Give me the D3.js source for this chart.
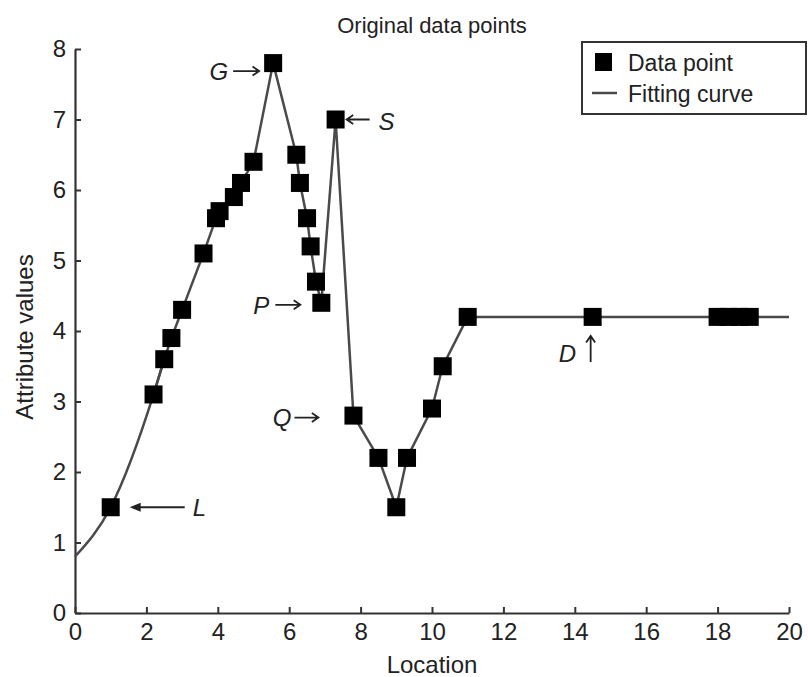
<!DOCTYPE html>
<html>
<head>
<meta charset="utf-8">
<script src="https://cdn.jsdelivr.net/npm/d3@7"></script>
<style>
  body { margin: 0; background: #fff; }
  svg { display: block; font-family: "Liberation Sans", Arial, Helvetica, sans-serif; }
</style>
</head>
<body>
<div id="chart"></div>
<script>
// data points
const locations = [1.0, 2.2, 2.5, 2.7, 3.0, 3.6, 3.95, 4.05, 4.45, 4.65, 5.0, 5.55,
  6.2, 6.3, 6.5, 6.6, 6.75, 6.9, 7.3, 7.8, 8.5, 9.0, 9.3, 10.0, 10.3, 11.0,
  14.5, 18.0, 18.3, 18.6, 18.9];
const attrValues = [1.5, 3.1, 3.6, 3.9, 4.3, 5.1, 5.6, 5.7, 5.9, 6.1, 6.4, 7.8,
  6.5, 6.1, 5.6, 5.2, 4.7, 4.4, 7.0, 2.8, 2.2, 1.5, 2.2, 2.9, 3.5, 4.2,
  4.2, 4.2, 4.2, 4.2, 4.2];

// ends of the fitting curve outside the data points
const curveStart = [0, 0.8];
const curveEnd = [20, 4.2];
// the curve is smooth up to this point, then runs straight between points
const smoothUntil = 2;

const xTicks = [0, 2, 4, 6, 8, 10, 12, 14, 16, 18, 20];
const yTicks = [0, 1, 2, 3, 4, 5, 6, 7, 8];

// letter labels: [location, value] of the point they mark
const labelNames = ["G", "S", "P", "Q", "L", "D"];
const labelAt = [[5.55, 7.8], [7.3, 7.0], [6.9, 4.4], [7.8, 2.8], [1.0, 1.5], [14.5, 4.2]];

const width = 808, height = 677;
const margin = { top: 49, right: 19, bottom: 64, left: 75 };

const svg = d3.select("#chart").append("svg")
  .attr("width", width)
  .attr("height", height);

const x = d3.scaleLinear().domain([0, 20]).range([margin.left, width - margin.right]);
const y = d3.scaleLinear().domain([0, 8]).range([height - margin.bottom, margin.top]);

const axisColor = "#333";
const inkColor = "#222";

// X axis
const gx = svg.append("g")
  .attr("transform", `translate(0, ${y(0)})`)
  .call(d3.axisBottom(x).tickValues(xTicks).tickSizeInner(-6).tickSizeOuter(0).tickPadding(10));

// Y axis
const gy = svg.append("g")
  .attr("transform", `translate(${x(0)}, 0)`)
  .call(d3.axisLeft(y).tickValues(yTicks).tickSizeInner(-6).tickSizeOuter(0).tickPadding(9));

[gx, gy].forEach((g) => {
  g.select(".domain").attr("stroke", axisColor).attr("stroke-width", 2.2);
  g.selectAll(".tick line").attr("stroke", axisColor).attr("stroke-width", 2);
  g.selectAll(".tick text")
    .attr("fill", inkColor)
    .style("font-size", "24px")
    .style("font-family", "inherit");
});

// fitting curve
const curvePts = [curveStart]
  .concat(locations.map((d, i) => [d, attrValues[i]]))
  .concat([curveEnd]);

const smoothLine = d3.line()
  .x((d) => x(d[0]))
  .y((d) => y(d[1]))
  .curve(d3.curveMonotoneX);

const straightLine = d3.line()
  .x((d) => x(d[0]))
  .y((d) => y(d[1]));

svg.append("path")
  .datum(curvePts.slice(0, smoothUntil + 2))
  .attr("fill", "none")
  .attr("stroke", "#4a4a4a")
  .attr("stroke-width", 2.5)
  .attr("d", smoothLine);

svg.append("path")
  .datum(curvePts.slice(smoothUntil))
  .attr("fill", "none")
  .attr("stroke", "#4a4a4a")
  .attr("stroke-width", 2.5)
  .attr("stroke-linejoin", "round")
  .attr("d", straightLine);

// data points
const sq = 18;
svg.selectAll("rect.pt")
  .data(locations)
  .join("rect")
  .attr("class", "pt")
  .attr("x", (d) => x(d) - sq / 2)
  .attr("y", (d, i) => y(attrValues[i]) - sq / 2)
  .attr("width", sq)
  .attr("height", sq)
  .attr("fill", "#000");

// annotations
const ann = svg.append("g")
  .style("font-size", "24px")
  .style("font-style", "italic")
  .attr("fill", inkColor);

function at(name) {
  const p = labelAt[labelNames.indexOf(name)];
  return [x(p[0]), y(p[1])];
}

// thin arrow with open head, tip at (x2, y2)
function arrow(x1, y1, x2, y2) {
  const a = Math.atan2(y2 - y1, x2 - x1);
  const h = 8, w = 0.6;
  ann.append("path")
    .attr("d", `M${x1},${y1}L${x2},${y2}` +
      `M${x2 - h * Math.cos(a - w)},${y2 - h * Math.sin(a - w)}L${x2},${y2}` +
      `L${x2 - h * Math.cos(a + w)},${y2 - h * Math.sin(a + w)}`)
    .attr("fill", "none")
    .attr("stroke", inkColor)
    .attr("stroke-width", 1.8);
}

let p = at("G");
arrow(p[0] - 40, p[1] + 8, p[0] - 14, p[1] + 8);
ann.append("text").attr("x", p[0] - 45).attr("y", p[1] + 17)
  .attr("text-anchor", "end").text("G");

p = at("S");
arrow(p[0] + 34, p[1], p[0] + 11, p[1]);
ann.append("text").attr("x", p[0] + 43).attr("y", p[1] + 10).text("S");

p = at("P");
arrow(p[0] - 46, p[1] + 2, p[0] - 21, p[1] + 2);
ann.append("text").attr("x", p[0] - 52).attr("y", p[1] + 11)
  .attr("text-anchor", "end").text("P");

p = at("Q");
arrow(p[0] - 59, p[1] + 2, p[0] - 35, p[1] + 2);
ann.append("text").attr("x", p[0] - 62).attr("y", p[1] + 10)
  .attr("text-anchor", "end").text("Q");

p = at("D");
arrow(p[0] - 2, p[1] + 45, p[0] - 2, p[1] + 19);
ann.append("text").attr("x", p[0] - 34).attr("y", p[1] + 45).text("D");

// L gets a long arrow with a solid head
p = at("L");
ann.append("line")
  .attr("x1", p[0] + 24).attr("y1", p[1])
  .attr("x2", p[0] + 74).attr("y2", p[1])
  .attr("stroke", inkColor).attr("stroke-width", 2);
ann.append("path")
  .attr("d", `M${p[0] + 19},${p[1]} l11,-4.5 l0,9 z`)
  .attr("fill", inkColor);
ann.append("text").attr("x", p[0] + 82).attr("y", p[1] + 9).text("L");

// title and axis labels
svg.append("text")
  .attr("x", (x(0) + x(20)) / 2)
  .attr("y", 33)
  .attr("text-anchor", "middle")
  .attr("fill", inkColor)
  .style("font-size", "22px")
  .text("Original data points");

svg.append("text")
  .attr("x", (x(0) + x(20)) / 2)
  .attr("y", height - 4)
  .attr("text-anchor", "middle")
  .attr("fill", inkColor)
  .style("font-size", "24px")
  .text("Location");

svg.append("text")
  .attr("transform", `translate(33, ${(y(0) + y(8)) / 2 + 6}) rotate(-90)`)
  .attr("text-anchor", "middle")
  .attr("fill", inkColor)
  .style("font-size", "24px")
  .text("Attribute values");

// legend
const lg = svg.append("g").attr("transform", "translate(582, 42)");
lg.append("rect")
  .attr("width", 224).attr("height", 72)
  .attr("fill", "#fff").attr("stroke", "#333").attr("stroke-width", 2);
lg.append("rect")
  .attr("x", 13).attr("y", 11).attr("width", 17).attr("height", 18)
  .attr("fill", "#000");
lg.append("text").attr("x", 46).attr("y", 29)
  .attr("fill", inkColor).style("font-size", "23px").text("Data point");
lg.append("line")
  .attr("x1", 10).attr("x2", 35).attr("y1", 51).attr("y2", 51)
  .attr("stroke", "#4a4a4a").attr("stroke-width", 2.5);
lg.append("text").attr("x", 46).attr("y", 60)
  .attr("fill", inkColor).style("font-size", "23px").text("Fitting curve");
</script>
</body>
</html>
